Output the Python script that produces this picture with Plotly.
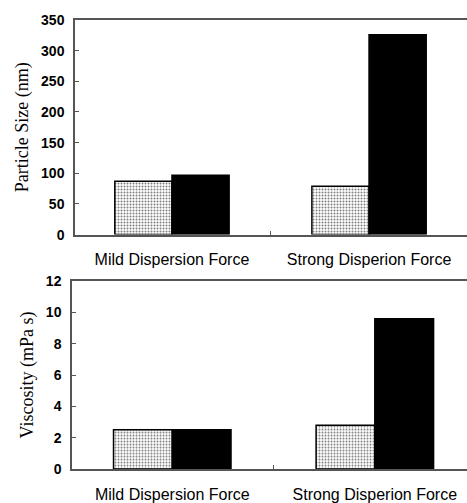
import plotly.graph_objects as go

categories = ["Mild Dispersion Force", "Strong Disperion Force"]
size_light = [87, 79]
size_dark = [97, 326]
visc_light = [2.5, 2.8]
visc_dark = [2.5, 9.6]
size_ticks = [0, 50, 100, 150, 200, 250, 300, 350]
visc_ticks = [0, 2, 4, 6, 8, 10, 12]

fig = go.Figure()

light_marker = dict(color="white", line=dict(color="black", width=1.5),
                    pattern=dict(shape=".", fgcolor="black", bgcolor="white", size=3, solidity=0.35))
dark_marker = dict(color="black", line=dict(color="black", width=1.5))

fig.add_trace(go.Bar(x=categories, y=size_light, marker=light_marker, xaxis="x", yaxis="y"))
fig.add_trace(go.Bar(x=categories, y=size_dark, marker=dark_marker, xaxis="x", yaxis="y"))
fig.add_trace(go.Bar(x=categories, y=visc_light, marker=light_marker, xaxis="x2", yaxis="y2"))
fig.add_trace(go.Bar(x=categories, y=visc_dark, marker=dark_marker, xaxis="x2", yaxis="y2"))

axis_line = dict(showline=True, linecolor="#555555", linewidth=1.5, showgrid=False, zeroline=False)
tickfont_y = dict(family="Liberation Sans, Arial", size=14, color="black", weight="bold")
tickfont_x = dict(family="Liberation Sans, Arial", size=16, color="black")
title_font = dict(family="Liberation Serif, Times New Roman", size=18, color="black")

fig.update_layout(
    width=467, height=503,
    margin=dict(l=72, r=0, t=20, b=29),
    paper_bgcolor="white", plot_bgcolor="white",
    showlegend=False,
    barmode="group", bargap=0.42, bargroupgap=0,
    xaxis=dict(domain=[0.0076, 1], anchor="y", range=[-0.492, 1.497], mirror=True,
               ticks="inside", tickson="boundaries", ticklen=4, tickcolor="#555555",
               tickfont=tickfont_x, ticklabelstandoff=9, **axis_line),
    yaxis=dict(domain=[0.522, 1], anchor="x", range=[0, 350], tickvals=size_ticks,
               ticks="inside", ticklen=4, tickcolor="#555555", tickfont=tickfont_y,
               ticklabelstandoff=6,
               title=dict(text="Particle Size (nm)", font=title_font, standoff=8), **axis_line),
    xaxis2=dict(domain=[0, 1], anchor="y2", range=[-0.495, 1.455], mirror=True,
                ticks="inside", tickson="boundaries", ticklen=4, tickcolor="#555555",
                tickfont=tickfont_x, ticklabelstandoff=10, **axis_line),
    yaxis2=dict(domain=[0, 0.4185], anchor="x2", range=[0, 12], tickvals=visc_ticks,
                ticks="inside", ticklen=4, tickcolor="#555555", tickfont=tickfont_y,
                ticklabelstandoff=6,
                title=dict(text="Viscosity (mPa s)", font=title_font, standoff=8), **axis_line),
)

fig.write_html("out.html")
